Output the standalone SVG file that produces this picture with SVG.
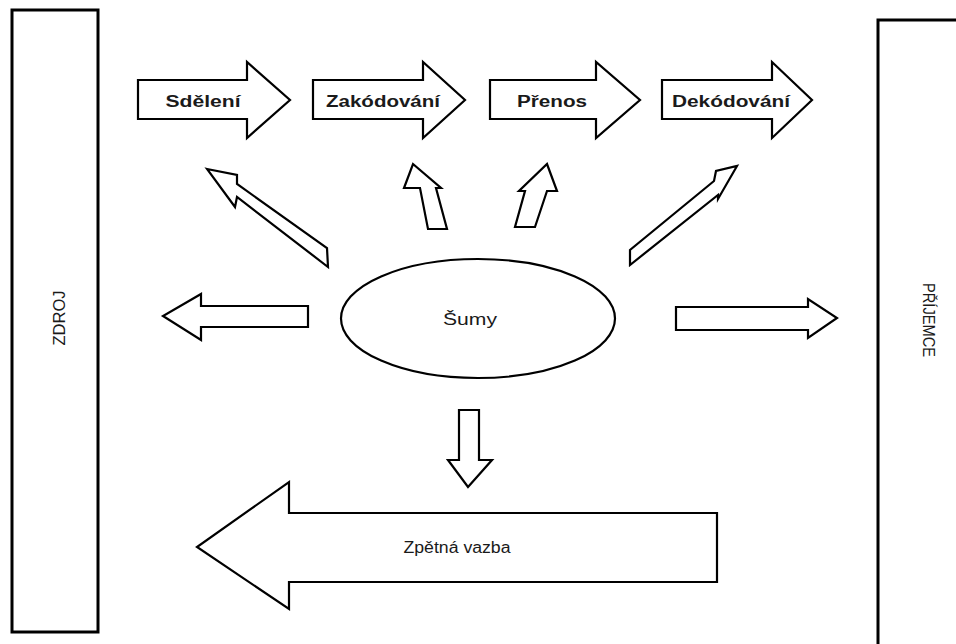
<svg xmlns="http://www.w3.org/2000/svg" width="956" height="644" viewBox="0 0 956 644">
<style>
.box{fill:#fff;stroke:#000;stroke-width:3}
.arr{fill:#fff;stroke:#000;stroke-width:2.2;stroke-linejoin:miter}
.lbl{font-family:"Liberation Sans",Arial,sans-serif;font-weight:bold;font-size:16px;fill:#1a1a1a}
.txt{font-family:"Liberation Sans",Arial,sans-serif;font-size:16px;fill:#1a1a1a}
</style>
<rect width="956" height="644" fill="#fff"/>
<g id="zdroj">
<rect class="box" x="12" y="10" width="86" height="622"/>
<text class="txt" transform="translate(65,318) rotate(-90)" text-anchor="middle" font-size="15" textLength="55" lengthAdjust="spacingAndGlyphs">ZDROJ</text>
</g>
<g id="prijemce">
<rect class="box" x="878" y="20" width="90" height="640"/>
<text class="txt" transform="translate(923,320) rotate(90)" text-anchor="middle" font-size="15" textLength="74" lengthAdjust="spacingAndGlyphs">PŘÍJEMCE</text>
</g>
<g id="sdeleni">
<polygon class="arr" points="138,80 247,80 247,62 290,100 247,138 247,119 138,119"/>
<text class="lbl" x="203" y="107" text-anchor="middle" textLength="75" lengthAdjust="spacingAndGlyphs">Sdělení</text>
</g>
<g id="zakodovani">
<polygon class="arr" points="313,80 423,80 423,62 465,100 423,138 423,119 313,119"/>
<text class="lbl" x="383" y="107" text-anchor="middle" textLength="114" lengthAdjust="spacingAndGlyphs">Zakódování</text>
</g>
<g id="prenos">
<polygon class="arr" points="490,80 596,80 596,62 640,100 596,138 596,119 490,119"/>
<text class="lbl" x="552" y="107" text-anchor="middle" textLength="70" lengthAdjust="spacingAndGlyphs">Přenos</text>
</g>
<g id="dekodovani">
<polygon class="arr" points="662,80 772,80 772,62 812,100 772,138 772,119 662,119"/>
<text class="lbl" x="731" y="107" text-anchor="middle" textLength="118" lengthAdjust="spacingAndGlyphs">Dekódování</text>
</g>
<g id="sumy">
<ellipse class="arr" cx="478" cy="318.5" rx="137" ry="59.5"/>
<text class="txt" x="470" y="325" text-anchor="middle" font-size="18" textLength="54" lengthAdjust="spacingAndGlyphs">Šumy</text>
</g>
<g id="zpetna-vazba">
<polygon class="arr" points="717,513 289,513 289,482 197,547 289,609 289,582 717,582"/>
<text class="txt" x="457" y="553" text-anchor="middle" font-size="17" textLength="107" lengthAdjust="spacingAndGlyphs">Zpětná vazba</text>
</g>
<g id="connectors">
<polygon class="arr" points="207,169 237,175 237,184 327,248 328,267 237,197 235,207"/>
<polygon class="arr" points="413,164 441,188 436,188 447,229 428,229 420,188 404,188"/>
<polygon class="arr" points="547,164 557,191 547,191 535,227 515,227 525,191 519,191"/>
<polygon class="arr" points="737,166 718,199 718,195 630,265 630,250 714,181 716,171"/>
<polygon class="arr" points="308,306 201,306 201,294 163,316 201,340 201,327 308,327"/>
<polygon class="arr" points="676,307 808,307 808,299 837,318 808,338 808,330 676,330"/>
<polygon class="arr" points="459,410 479,410 479,460 492,460 468,487 448,460 459,460"/>
</g>
</svg>
